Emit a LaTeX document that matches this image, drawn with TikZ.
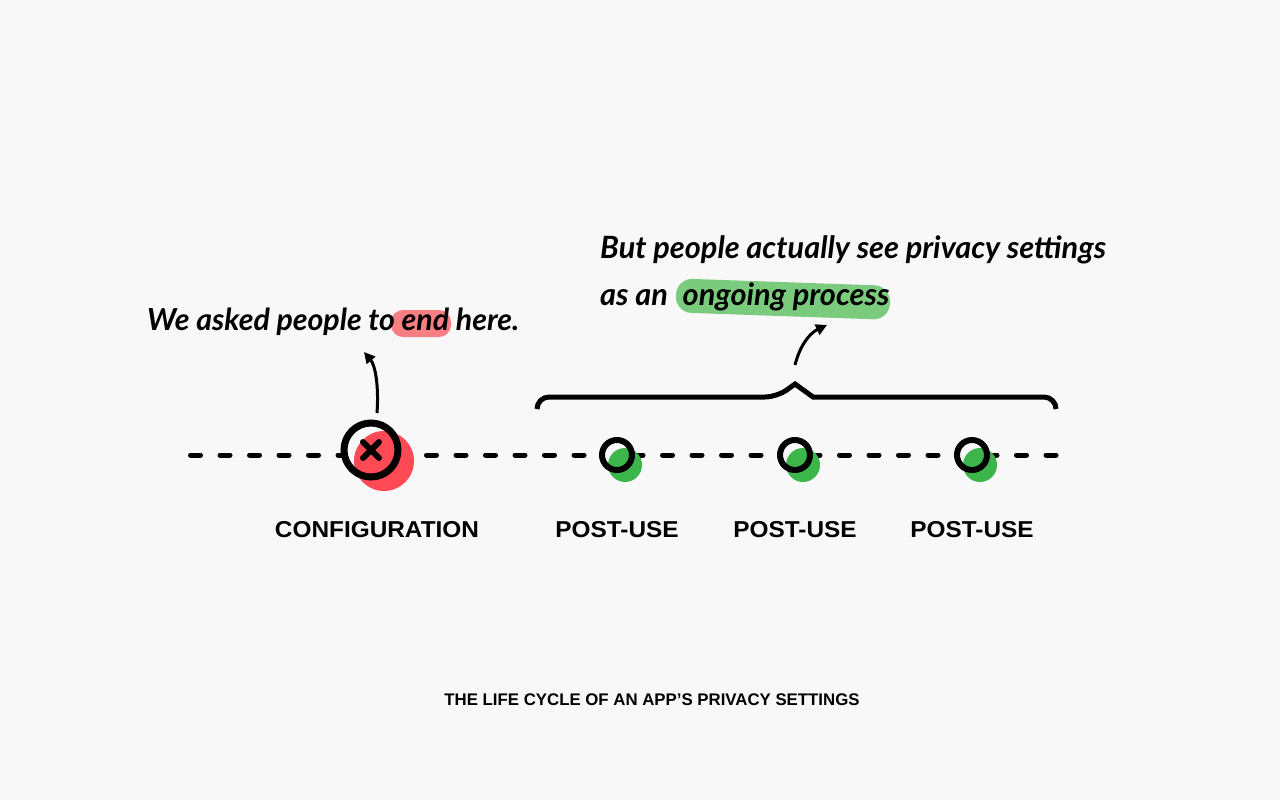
\documentclass[tikz,border=0pt]{standalone}
\usepackage{fontspec}
\setmainfont{Liberation Sans}
\newfontfamily\handfont{Lato}
\usetikzlibrary{arrows.meta}
\definecolor{bg}{HTML}{F8F8F8}
\definecolor{redc}{HTML}{FF4A55}
\definecolor{redhl}{HTML}{F77F84}
\definecolor{greenc}{HTML}{3CB64A}
\definecolor{greenhl}{HTML}{7BCB7F}
\newcommand{\widelabel}[1]{\scalebox{1.06}[1]{#1}}
\tikzset{
  label/.style={font=\bfseries\fontsize{23}{27}\selectfont, inner sep=0pt},
  hand/.style={font=\handfont\itshape\bfseries\fontsize{30.7}{36}\selectfont, inner sep=0pt, anchor=base west},
  ring/.style={draw=black, line width=6.5pt, fill=bg},
  timeline/.style={line width=5pt, line cap=round, dash pattern=on 10pt off 19.5pt},
  curvearrow/.style={line width=3pt, -{Triangle[length=11pt,width=11pt]}},
}
\begin{document}
\begin{tikzpicture}[x=1pt,y=-1pt]
\useasboundingbox[fill=bg] (0,0) rectangle (1280,800);
% timeline
\coordinate (ls) at (190.5,455);
\coordinate (le) at (1056,455);
\draw[timeline] (ls) -- (le);
% configuration
\fill[bg] (371,450) circle (27);
\fill[redc] (384,461) circle (30);
\draw[line width=7pt] (371,450) circle (27);
\node[inner sep=0pt, minimum size=54pt] (cfg) at (371,450) {};
\draw[line width=6pt, line cap=round] (363,442) -- (379,458) (379,442) -- (363,458);
% post-use circles
\foreach \x/\n in {617/p1,795/p2,972/p3}{
  \fill[bg] (\x,455) circle (15);
  \fill[greenc] (\x+8,465) circle (17);
  \draw[line width=6pt] (\x,455) circle (15);
  \node[inner sep=0pt, minimum size=36pt] (\n) at (\x,455) {};
}
% labels
\node[label] (lcfg) at (377,530) {\widelabel{CONFIGURATION}};
\node[label] (l1) at (617,530) {\widelabel{POST-USE}};
\node[label] (l2) at (795,530) {\widelabel{POST-USE}};
\node[label] (l3) at (972,530) {\widelabel{POST-USE}};
\node[font=\bfseries\fontsize{16.8}{20}\selectfont, inner sep=0pt] (title) at (652,700) {THE LIFE CYCLE OF AN APP’S PRIVACY SETTINGS};
% brace
\draw[line width=5pt, rounded corners=12pt] (537,409) |- (777,397) [sharp corners] -- (795,384) -- (813,397) [rounded corners=12pt] -| (1056,409);
% highlights
\fill[redhl, rounded corners=12pt] (391,310) rectangle (451,337);
\fill[greenhl, rounded corners=16pt, rotate around={-2:(780,298)}] (676,282) rectangle (890,316);
% texts
\node[hand, font=\handfont\itshape\bfseries\fontsize{30.3}{36}\selectfont] (t1) at (147,330) {We asked people to end here.};
\node[hand] (t2) at (600,258) {But people actually see privacy settings};
\node[hand] (t3) at (600,305) {as an\hspace{8pt} ongoing process};
% arrows
\coordinate (a1s) at (377,413);
\coordinate (a1e) at (364,352);
\draw[curvearrow] (a1s) .. controls (379,385) and (375,365) .. (a1e);
\coordinate (a2s) at (795,365);
\coordinate (a2e) at (827,325);
\draw[curvearrow] (a2s) .. controls (800,345) and (810,333) .. (a2e);
\end{tikzpicture}
\end{document}
